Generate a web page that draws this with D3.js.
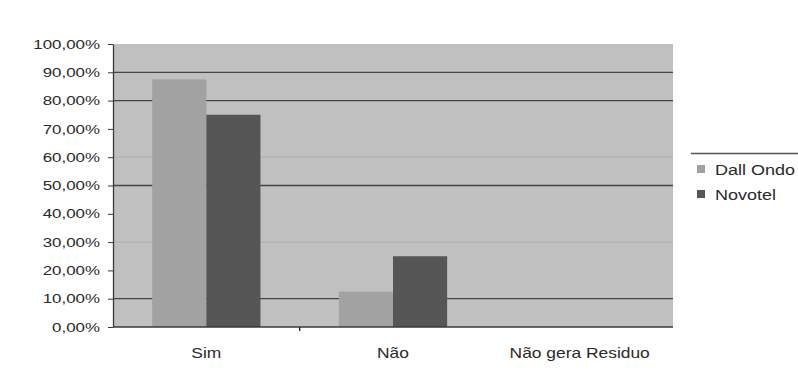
<!DOCTYPE html>
<html>
<head>
<meta charset="utf-8">
<script src="https://cdn.jsdelivr.net/npm/d3@7"></script>
<style>
  html, body { margin: 0; padding: 0; background: #fff; }
  svg { display: block; font-family: "Liberation Sans", Arial, sans-serif; }
</style>
</head>
<body>
<svg id="chart" width="798" height="380"></svg>
<script>
// Survey answers per category, as share of respondents
const categories = ["Sim", "Não", "Não gera Residuo"];
const seriesNames = ["Dall Ondo", "Novotel"];
const dallOndo = [0.875, 0.125, 0];
const novotel = [0.75, 0.25, 0];
const yTicks = [0, 0.1, 0.2, 0.3, 0.4, 0.5, 0.6, 0.7, 0.8, 0.9, 1.0];

const seriesValues = [dallOndo, novotel];
const colors = ["#a2a2a2", "#565656"];

const svg = d3.select("#chart");
const plot = { left: 113, right: 673, top: 44, bottom: 327 };

const x = d3.scaleBand().domain(categories).range([plot.left, plot.right]).padding(0);
const bw = x.bandwidth();
const xInner = d3.scaleBand().domain(seriesNames).range([bw * 0.21, bw * 0.79]).padding(0);
const y = d3.scaleLinear().domain([0, 1]).range([plot.bottom, plot.top]);

const pct = d => d3.format(".2f")(d * 100).replace(".", ",") + "%";

// Plot area background
svg.append("rect")
  .attr("x", plot.left).attr("y", plot.top)
  .attr("width", plot.right - plot.left).attr("height", plot.bottom - plot.top)
  .attr("fill", "#c0c0c0");

// Horizontal gridlines: some print darker than others
const strongLines = new Set([0.1, 0.5, 0.8, 0.9]);
const faintLines = new Set([0.3, 0.6]);
svg.append("g").selectAll("line")
  .data(yTicks.filter(t => t > 0 && (strongLines.has(t) || faintLines.has(t))))
  .join("line")
  .attr("x1", plot.left).attr("x2", plot.right)
  .attr("y1", d => y(d)).attr("y2", d => y(d))
  .attr("stroke", d => strongLines.has(d) ? "#454545" : "#b2b2b2")
  .attr("stroke-width", d => strongLines.has(d) ? 1.3 : 1.2);

// Bars
const groups = svg.append("g").selectAll("g")
  .data(categories)
  .join("g")
  .attr("transform", d => `translate(${x(d)},0)`);

groups.selectAll("rect")
  .data((c, ci) => seriesNames.map((s, si) => ({ s, si, v: seriesValues[si][ci] })))
  .join("rect")
  .attr("x", d => xInner(d.s))
  .attr("width", xInner.bandwidth())
  .attr("y", d => y(d.v))
  .attr("height", d => y(0) - y(d.v))
  .attr("fill", d => colors[d.si]);

// Y axis
const yAxis = svg.append("g")
  .attr("transform", `translate(${plot.left},0)`)
  .call(d3.axisLeft(y).tickValues(yTicks).tickFormat(pct).tickSize(5).tickSizeOuter(0));
yAxis.select(".domain").attr("stroke", "#3a3a3a").attr("stroke-width", 1.3);
yAxis.selectAll(".tick line").attr("stroke", "#3a3a3a");
yAxis.selectAll(".tick text")
  .attr("font-size", 13)
  .attr("fill", "#2a2a2a")
  .attr("x", -13 / 1.3)
  .attr("transform", "scale(1.3,1)");

// X axis baseline and band separators
svg.append("line")
  .attr("x1", plot.left).attr("x2", plot.right)
  .attr("y1", y(0)).attr("y2", y(0))
  .attr("stroke", "#3a3a3a").attr("stroke-width", 1.3);
svg.append("g").selectAll("line")
  .data(categories.slice(1, 2))
  .join("line")
  .attr("x1", d => x(d)).attr("x2", d => x(d))
  .attr("y1", y(0)).attr("y2", y(0) + 4)
  .attr("stroke", "#222").attr("stroke-width", 1.3);

// Category labels
svg.append("g").selectAll("text")
  .data(categories)
  .join("text")
  .attr("transform", d => `translate(${x(d) + bw / 2},358) scale(1.16,1)`)
  .attr("text-anchor", "middle")
  .attr("font-size", 15)
  .attr("fill", "#2a2a2a")
  .text(d => d);

// Legend
const legend = svg.append("g");
legend.append("line")
  .attr("x1", 691).attr("x2", 798).attr("y1", 153.5).attr("y2", 153.5)
  .attr("stroke", "#555").attr("stroke-width", 1.5);
const items = legend.selectAll("g.item")
  .data(seriesNames)
  .join("g")
  .attr("class", "item")
  .attr("transform", (d, i) => `translate(697,${165 + i * 25})`);
items.append("rect")
  .attr("width", 8).attr("height", 8)
  .attr("fill", (d, i) => colors[i]);
items.append("text")
  .attr("transform", "translate(18,10) scale(1.2,1)")
  .attr("font-size", 15)
  .attr("fill", "#2a2a2a")
  .text(d => d);
</script>
</body>
</html>
